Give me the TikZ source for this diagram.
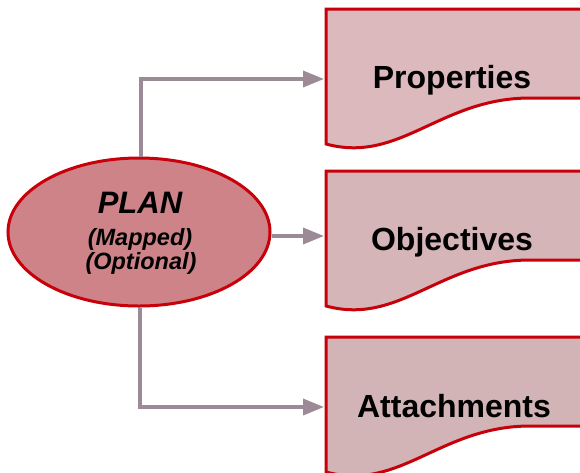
\documentclass[tikz,border=0pt]{standalone}
\usepackage{fontspec}
\setmainfont{Liberation Sans}
\usetikzlibrary{arrows.meta,shapes.geometric}
\definecolor{planfill}{RGB}{205,131,136}
\definecolor{redline}{RGB}{200,0,10}
\definecolor{docfillA}{RGB}{219,185,188}
\definecolor{docfillB}{RGB}{213,181,184}
\definecolor{docfillC}{RGB}{210,180,183}
\definecolor{conncol}{RGB}{156,139,151}
\tikzset{
  planshape/.style={ellipse, draw=redline, line width=3pt, fill=planfill,
    minimum width=262pt, minimum height=148pt, inner sep=0pt},
  plantitle/.style={font=\fontsize{31}{34}\selectfont\bfseries\itshape, inner sep=0pt},
  plansub/.style={font=\fontsize{23.5}{26}\selectfont\bfseries\itshape, inner sep=0pt},
  docshape/.style={draw=redline, line width=3pt, line join=miter},
  doctext/.style={font=\fontsize{32}{35}\selectfont\bfseries, inner sep=0pt, anchor=base},
  conn/.style={draw=conncol, line width=3.5pt, -{Triangle[length=21pt,width=16pt]}}
}
\newcommand{\docpath}[2]{%
  % #1 = top y, #2 = fill colour
  \path[docshape, fill=#2]
    (326,#1) -- (592,#1) -- (592,#1+89) -- (530,#1+89)
    .. controls (440,#1+89) and (400,#1+155) .. (326,#1+135) -- cycle;
}
\begin{document}
\begin{tikzpicture}[x=1pt,y=-1pt]
\clip (0,0) rectangle (580,472);
\fill[white] (0,0) rectangle (580,472);

% document shapes
\docpath{9}{docfillA}
\docpath{171}{docfillB}
\docpath{337}{docfillC}

\node[doctext] (prop) at (452,88) {Properties};
\node[doctext] (obj) at (452,250) {Objectives};
\node[doctext] (att) at (454,417) {Attachments};

\coordinate (propin) at (324,79);
\coordinate (objin) at (324,236);
\coordinate (attin) at (324,407);

% plan ellipse
\node[planshape] (plan) at (139,232) {};
\node[plantitle, anchor=base] (plantxt) at (140,213) {PLAN};
\node[plansub, anchor=base] (mapped) at (140,245) {(Mapped)};
\node[plansub, anchor=base] (optional) at (141,269) {(Optional)};

% connectors
\draw[conn] ([xshift=2pt]plan.north) |- (propin);
\draw[conn] (plan.east |- objin) -- (objin);
\draw[conn] ([xshift=1pt]plan.south) |- (attin);
\end{tikzpicture}
\end{document}
